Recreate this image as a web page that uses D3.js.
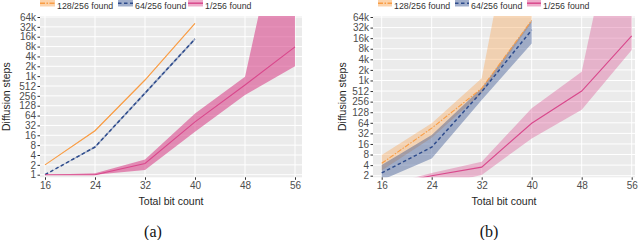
<!DOCTYPE html>
<html>
<head>
<meta charset="utf-8">
<script src="https://cdn.jsdelivr.net/npm/d3@7"></script>
<style>
body { margin: 0; background: #fff; }
svg { display: block; }
text { font-family: "Liberation Sans", Arial, sans-serif; }
</style>
</head>
<body>
<div id="chart-area"></div>
<script>
// data
var bits = [16, 24, 32, 40, 48, 56];
var seriesNames = ["128/256 found", "64/256 found", "1/256 found"];
var yTicksA = [1, 2, 4, 8, 16, 32, 64, 128, 256, 512, 1024, 2048, 4096, 8192, 16384, 32768, 65536];
var yTicksB = [2, 4, 8, 16, 32, 64, 128, 256, 512, 1024, 2048, 4096, 8192, 16384, 32768, 65536];
var yTickLabelsA = ["1", "2", "4", "8", "16", "32", "64", "128", "256", "512", "1k", "2k", "4k", "8k", "16k", "32k", "64k"];
var yTickLabelsB = yTickLabelsA.slice(1);

// panel (a)
var a128 = [2, 22, 780, 42000];
var a128lo = [2, 21, 750, 40000];
var a128hi = [2, 23, 820, 44000];
var a64 = [1, 7, 310, 14000];
var a64lo = [1, 6.5, 280, 12800];
var a64hi = [1, 7.5, 340, 15200];
var a1 = [1, 1, 2.2, 41, 550, 8000];
var a1lo = [1, 1, 1.4, 20.5, 270, 2048];
var a1hi = [1, 1.1, 2.9, 74, 980, 8e9];

// panel (b)
var b128 = [4.5, 45, 610, 53000];
var b128lo = [2.8, 24, 440, 46000];
var b128hi = [7.8, 62, 1180, 3e10];
var b64 = [2.4, 13, 490, 28000];
var b64lo = [1.5, 6.2, 284, 11600];
var b64hi = [4, 29, 630, 53000];
var b1 = [1, 2, 3.5, 62, 512, 19000];
var b1lo = [1, 1, 2.1, 23, 150, 7600];
var b1hi = [1, 2.4, 5, 165, 1800, 8e9];

var colors = ["#f99d45", "#2d4b8c", "#d9488c"];
var dashes = ["5,1.5,1.5,1.5", "3.5,2.5", null];

function pack(mid, lo, hi) {
	return mid.map(function(v, i) { return {x: bits[i], v: v, lo: lo[i], hi: hi[i]}; });
}

var svg = d3.select("#chart-area")
	.append("svg")
		.attr("width", 640)
		.attr("height", 240);

function drawPanel(p) {
	var g = svg.append("g");

	var x = d3.scaleLinear().domain([16, 56]).range(p.xRange);
	var y = d3.scaleLog().base(2).domain(p.yDomain).range(p.yRange);

	g.append("rect")
		.attr("x", p.left).attr("y", p.top)
		.attr("width", p.right - p.left).attr("height", p.bottom - p.top)
		.attr("fill", "#ebebeb");

	g.selectAll(".hgrid").data(p.yTicks).enter().append("line")
		.attr("x1", p.left).attr("x2", p.right)
		.attr("y1", d => y(d)).attr("y2", d => y(d))
		.attr("stroke", "#fff").attr("stroke-width", 1);
	g.selectAll(".vgrid").data(bits).enter().append("line")
		.attr("x1", d => x(d)).attr("x2", d => x(d))
		.attr("y1", p.top).attr("y2", p.bottom)
		.attr("stroke", "#fff").attr("stroke-width", 1);

	var clipId = "clip" + p.id;
	svg.append("clipPath").attr("id", clipId)
		.append("rect")
		.attr("x", p.left).attr("y", p.top)
		.attr("width", p.right - p.left).attr("height", p.bottom - p.top);

	var plot = g.append("g").attr("clip-path", "url(#" + clipId + ")");

	var area = d3.area()
		.x(d => x(d.x))
		.y0(d => y(d.lo))
		.y1(d => y(d.hi));
	var line = d3.line()
		.x(d => x(d.x))
		.y(d => y(d.v));

	p.series.forEach(function(s, i) {
		plot.append("path")
			.attr("d", area(s))
			.attr("fill", colors[i])
			.attr("fill-opacity", p.alpha[i]);
	});
	p.series.forEach(function(s, i) {
		plot.append("path")
			.attr("d", line(s))
			.attr("fill", "none")
			.attr("stroke", colors[i])
			.attr("stroke-width", i == 1 ? 1.5 : 1.1)
			.attr("stroke-dasharray", p.dashes[i]);
	});

	// axes
	var yAxis = d3.axisLeft(y)
		.tickValues(p.yTicks)
		.tickFormat((d, i) => p.yLabels[i])
		.tickSize(2.5)
		.tickPadding(1.5);
	var yg = g.append("g")
		.attr("transform", "translate(" + p.left + ",0)")
		.call(yAxis);

	var xAxis = d3.axisBottom(x)
		.tickValues(bits)
		.tickFormat(d3.format("d"))
		.tickSize(2.5)
		.tickPadding(2);
	var xg = g.append("g")
		.attr("transform", "translate(0," + p.bottom + ")")
		.call(xAxis);

	[yg, xg].forEach(function(ax) {
		ax.select(".domain").remove();
		ax.selectAll(".tick line").attr("stroke", "#333");
		ax.selectAll(".tick text")
			.attr("fill", "#4d4d4d")
			.attr("font-size", "10px")
			.attr("font-family", "Liberation Sans, Arial, sans-serif");
	});

	g.append("text")
		.attr("transform", "translate(" + p.yTitleX + "," + ((p.top + p.bottom) / 2) + ") rotate(-90)")
		.attr("text-anchor", "middle")
		.attr("font-size", "10.5px")
		.attr("fill", "#262626")
		.text("Diffusion steps");

	g.append("text")
		.attr("x", (p.left + p.right) / 2)
		.attr("y", 205)
		.attr("text-anchor", "middle")
		.attr("font-size", "10.5px")
		.attr("fill", "#262626")
		.text("Total bit count");

	g.append("text")
		.attr("x", p.captionX)
		.attr("y", 237)
		.attr("text-anchor", "middle")
		.attr("font-size", "16px")
		.style("font-family", "'Liberation Serif', 'DejaVu Serif', serif")
		.attr("fill", "#111")
		.text(p.caption);

	// legend
	p.legendX.forEach(function(lx, i) {
		var kw = p.keyW;
		g.append("rect")
			.attr("x", lx).attr("y", 0)
			.attr("width", kw).attr("height", 6.5)
			.attr("fill", colors[i]).attr("fill-opacity", 0.45);
		g.append("line")
			.attr("x1", lx).attr("x2", lx + kw)
			.attr("y1", 3.2).attr("y2", 3.2)
			.attr("stroke", colors[i]).attr("stroke-width", 1.5)
			.attr("stroke-dasharray", dashes[i]);
		g.append("text")
			.attr("x", lx + kw + 2)
			.attr("y", 8.5)
			.attr("font-size", "8.8px")
			.attr("fill", "#333")
			.text(seriesNames[i]);
	});
}

drawPanel({
	id: "a",
	left: 40, right: 302, top: 16, bottom: 177.3,
	xRange: [45, 295],
	yDomain: [1, 65536], yRange: [174.7, 17],
	yTicks: yTicksA, yLabels: yTickLabelsA,
	series: [pack(a128, a128lo, a128hi), pack(a64, a64lo, a64hi), pack(a1, a1lo, a1hi)],
	alpha: [0.4, 0.4, 0.6],
	dashes: [null, "3.5,2.5", null],
	yTitleX: 9.5,
	captionX: 153, caption: "(a)",
	legendX: [40, 118, 188], keyW: 15
});

drawPanel({
	id: "b",
	left: 373, right: 635, top: 16, bottom: 177.3,
	xRange: [381.7, 631.7],
	yDomain: [2, 65536], yRange: [175.7, 17],
	yTicks: yTicksB, yLabels: yTickLabelsB,
	series: [pack(b128, b128lo, b128hi), pack(b64, b64lo, b64hi), pack(b1, b1lo, b1hi)],
	alpha: [0.35, 0.4, 0.35],
	dashes: dashes,
	yTitleX: 345.5,
	captionX: 489, caption: "(b)",
	legendX: [378, 455, 527], keyW: 14
});
</script>
</body>
</html>
